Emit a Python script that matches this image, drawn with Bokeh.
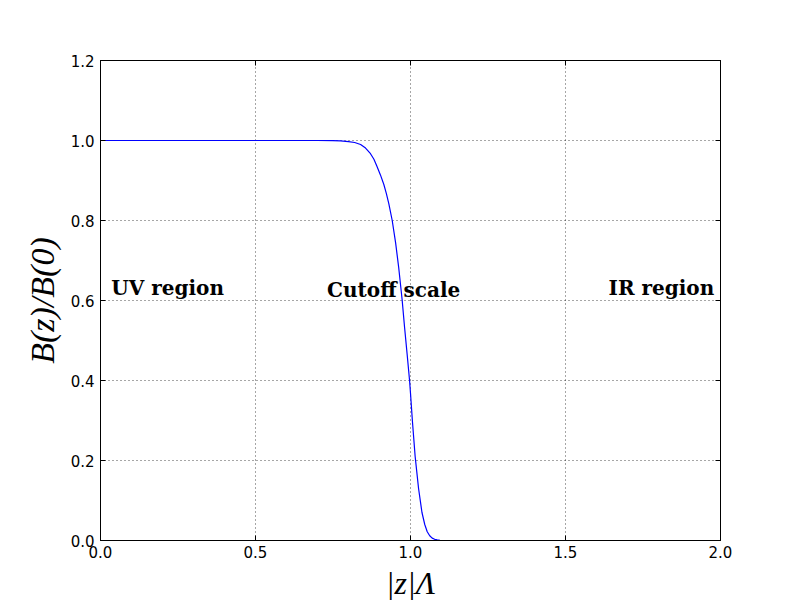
from bokeh.plotting import figure
from bokeh.models import LinearAxis, Range1d, FixedTicker, ColumnDataSource, PrintfTickFormatter, CustomJSTickFormatter
from bokeh.embed import file_html
from bokeh.resources import INLINE
from bokeh.core.properties import value

# Curve: |z|Lambda vs B(z)/B(0)
z_lambda = [0.0, 0.3, 0.6, 0.7, 0.75, 0.774, 0.80, 0.82, 0.839, 0.855, 0.871, 0.882,
            0.892, 0.903, 0.914, 0.922, 0.930, 0.941, 0.952, 0.962, 0.973, 0.981,
            0.989, 0.997, 1.000, 1.006, 1.015, 1.026, 1.037, 1.046, 1.054, 1.062, 1.070,
            1.078, 1.086, 1.095, 1.2, 1.5, 2.0]
b_ratio = [1.0, 1.0, 1.0, 1.0, 0.9995, 0.999, 0.997, 0.995, 0.990, 0.981, 0.967, 0.953,
           0.935, 0.914, 0.890, 0.868, 0.842, 0.800, 0.744, 0.682, 0.602, 0.532,
           0.467, 0.400, 0.368, 0.300, 0.210, 0.130, 0.070, 0.040, 0.022, 0.012, 0.006,
           0.003, 0.0015, 0.0005, 0.0, 0.0, 0.0]

x_ticks = [0.0, 0.5, 1.0, 1.5, 2.0]
y_ticks = [0.0, 0.2, 0.4, 0.6, 0.8, 1.0, 1.2]

label_texts = ["UV region", "Cutoff scale", "IR region"]
label_x = [0.035, 0.731, 1.639]
label_y = [0.632, 0.627, 0.632]

p = figure(frame_width=620, frame_height=480, output_backend="svg",
           toolbar_location=None, x_range=Range1d(0, 2.0), y_range=Range1d(0, 1.2),
           min_border_left=100, min_border_right=72, min_border_top=60, min_border_bottom=52)
p.background_fill_color = "white"
p.border_fill_color = "white"
p.outline_line_color = "black"
p.outline_line_width = 1

for ax, ticks in ((p.xaxis[0], x_ticks), (p.yaxis[0], y_ticks)):
    ax.ticker = FixedTicker(ticks=ticks)
    ax.formatter = PrintfTickFormatter(format="%.1f")
    ax.major_tick_in = 5
    ax.major_tick_out = 0
    ax.minor_tick_in = 0
    ax.minor_tick_out = 0
    ax.major_label_text_font = "DejaVu Sans"
    ax.major_label_text_font_size = "15px"
    ax.major_label_text_color = "black"
    ax.axis_line_color = "black"
    ax.major_tick_line_color = "black"
    ax.axis_label_text_font = "Liberation Serif"
    ax.axis_label_text_font_style = "italic"
    ax.axis_label_text_color = "black"

p.xaxis[0].major_label_standoff = 5
p.yaxis[0].major_label_standoff = 6
p.xaxis[0].axis_label = "|z|Λ"
p.xaxis[0].axis_label_text_font_size = "32px"
p.xaxis[0].axis_label_standoff = 4
p.yaxis[0].axis_label = "B(z)/B(0)"
p.yaxis[0].axis_label_text_font_size = "34px"
p.yaxis[0].axis_label_standoff = 7

blank = CustomJSTickFormatter(code="return '';")
top = LinearAxis(ticker=FixedTicker(ticks=x_ticks), formatter=blank, major_tick_in=5,
                 major_tick_out=0, minor_tick_in=0, minor_tick_out=0,
                 axis_line_color="black", major_label_standoff=0)
right = LinearAxis(ticker=FixedTicker(ticks=y_ticks), formatter=blank, major_tick_in=5,
                   major_tick_out=0, minor_tick_in=0, minor_tick_out=0,
                   axis_line_color="black", major_label_standoff=0)
p.add_layout(top, "above")
p.add_layout(right, "right")

p.xgrid.ticker = FixedTicker(ticks=x_ticks)
p.ygrid.ticker = FixedTicker(ticks=y_ticks)
for g in (p.xgrid, p.ygrid):
    g.grid_line_color = "black"
    g.grid_line_dash = "1 3"
    g.grid_line_width = 0.7

src = ColumnDataSource(dict(x=z_lambda, y=b_ratio))
p.line("x", "y", source=src, line_color="#0000ff", line_width=1.2)

lsrc = ColumnDataSource(dict(x=label_x, y=label_y, t=label_texts))
p.text("x", "y", text="t", source=lsrc, text_font=value("DejaVu Serif"),
       text_font_style="bold", text_font_size="20px", text_color="black",
       text_align="left", text_baseline="alphabetic")

open("out.html", "w").write(file_html(p, INLINE))
